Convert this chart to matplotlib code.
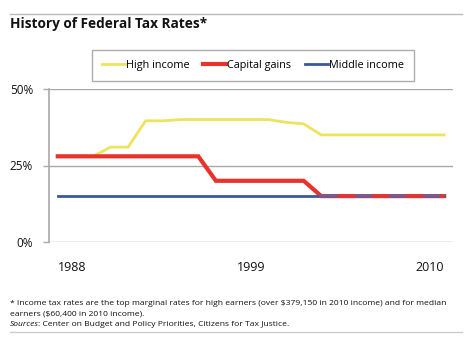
import matplotlib.pyplot as plt
from matplotlib.lines import Line2D

plt.rcParams['font.family'] = ['Open Sans', 'DejaVu Sans']

years = list(range(1988, 2011))
high_income = [28, 28, 28, 31, 31, 39.6, 39.6, 40, 40, 40, 40, 40, 40, 39.1, 38.6,
               35, 35, 35, 35, 35, 35, 35, 35]
capital_gains = [28, 28, 28, 28, 28, 28, 28, 28, 28, 20, 20, 20, 20, 20, 20,
                 15, 15, 15, 15, 15, 15, 15, 15]
middle_income = [15] * 23
tick_years = [1988, 1999, 2010]
y_ticks = [0, 25, 50]

YELLOW = "#ede35c"
RED = "#e8322b"
BLUE = "#3b5899"
GRID = "#a8a8a8"

fig = plt.figure(figsize=(4.7, 3.47), dpi=100)
ax = fig.add_axes([49 / 470, 105 / 347, 404 / 470, 153 / 347])

ax.plot(years, high_income, color=YELLOW, lw=2, zorder=2)
ax.plot(years, capital_gains, color=RED, lw=3, zorder=3, solid_joinstyle="miter")
ax.plot(years, middle_income, color=BLUE, lw=2, zorder=3)
# where capital gains meets the middle rate, the red shows through in dashes
overlap = [i for i, (c, m) in enumerate(zip(capital_gains, middle_income)) if c == m]
ax.plot([years[i] for i in overlap], [middle_income[i] for i in overlap],
        color="#7a5a8c", lw=2.6, zorder=4)
ax.plot([years[i] for i in overlap], [capital_gains[i] for i in overlap],
        color=RED, lw=2.6, zorder=5, linestyle=(4.7, (4.7, 4.7)), dash_capstyle="butt")

ax.set_xlim(1987.5, 2010.5)
ax.set_ylim(0, 50)
ax.set_yticks(y_ticks)
ax.set_yticklabels([f"{v}%" for v in y_ticks])
ax.set_xticks(tick_years)
ax.set_xticklabels([str(y) for y in tick_years])
for lab, ha in zip(ax.get_xticklabels(), ["left", "center", "right"]):
    lab.set_ha(ha)
ax.tick_params(axis="x", length=0, pad=14, labelsize=9, colors="#111111")
ax.tick_params(axis="y", length=4, width=1, color=GRID, pad=7.5, labelsize=8.5,
               colors="#111111")
ax.grid(axis="y", color=GRID, lw=1)
ax.set_axisbelow(True)
for s in ["top", "right", "bottom"]:
    ax.spines[s].set_visible(False)
ax.spines["left"].set_color(GRID)
ax.spines["left"].set_linewidth(1.2)

handles = [Line2D([], [], color=YELLOW, lw=2),
           Line2D([], [], color=RED, lw=3),
           Line2D([], [], color=BLUE, lw=2)]
leg = fig.legend(handles, ["High income", "Capital gains", "Middle income"],
                 loc="center", bbox_to_anchor=(253 / 470, 1 - 65.5 / 347),
                 ncol=3, fontsize=7.8, handlelength=2.1, handletextpad=0.1,
                 columnspacing=1.3, frameon=True, fancybox=False,
                 borderpad=0.95, borderaxespad=0)
leg.get_frame().set_edgecolor("#999999")
leg.get_frame().set_linewidth(1)

fig.add_artist(Line2D([10 / 470, 462 / 470], [1 - 14 / 347] * 2, color="#bbbbbb", lw=1))
fig.add_artist(Line2D([10 / 470, 462 / 470], [1 - 332 / 347] * 2, color="#cccccc", lw=1))

fig.text(10 / 470, 1 - 24 / 347, "History of Federal Tax Rates*", fontsize=9.8,
         fontweight="bold", va="center", ha="left", color="#111111")

fs = 6.1
fig.text(10 / 470, 1 - 303.5 / 347,
         "* Income tax rates are the top marginal rates for high earners (over $379,150 in 2010 income) and for median",
         fontsize=fs, va="center", ha="left", color="#111111")
fig.text(10 / 470, 1 - 314 / 347, "earners ($60,400 in 2010 income).",
         fontsize=fs, va="center", ha="left", color="#111111")
src = fig.text(10 / 470, 1 - 325 / 347, "Sources", fontsize=fs, style="italic",
               va="center", ha="left", color="#111111")
fig.canvas.draw()
bb = src.get_window_extent()
fig.text((bb.x1 - 1) / 470, 1 - 325 / 347, ": Center on Budget and Policy Priorities, Citizens for Tax Justice.",
         fontsize=fs, va="center", ha="left", color="#111111")

fig.savefig("out.png", dpi=100)
